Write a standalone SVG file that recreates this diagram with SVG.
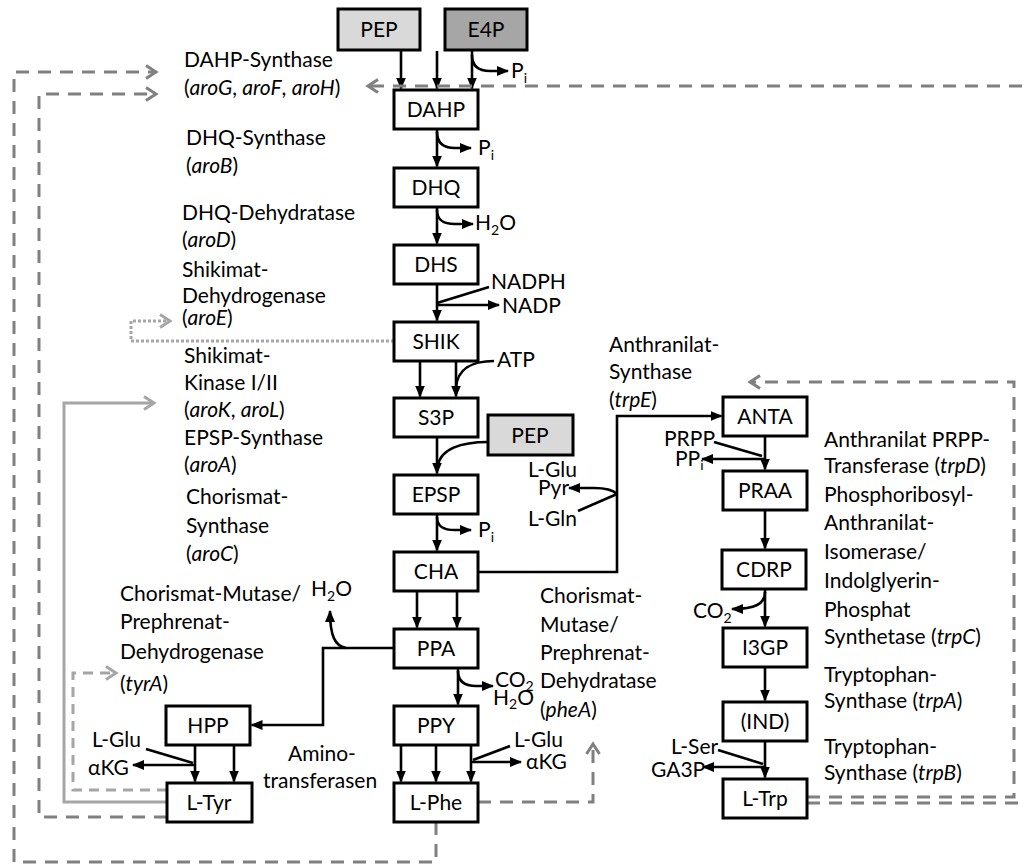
<svg xmlns="http://www.w3.org/2000/svg" width="1027" height="864" viewBox="0 0 1027 864">
<defs>
<style>
.box{fill:#fff;stroke:#000;stroke-width:3}
.g1{fill:#d9d9d9}
.g2{fill:#a6a6a6}
text{font-family:Lato,"Liberation Sans",sans-serif;font-size:21px;fill:#000}
.c{text-anchor:middle}
.e{text-anchor:end}
.i{font-style:italic}
.s{font-size:14px}
.ln{fill:none;stroke:#000;stroke-width:2.6}
.ar{marker-end:url(#ah)}
.fb{fill:none;stroke:#808080;stroke-width:3;stroke-dasharray:13 9;marker-end:url(#ch)}
.fl{fill:none;stroke:#a6a6a6;stroke-width:3;stroke-dasharray:10 7;marker-end:url(#chl)}
.sl{fill:none;stroke:#a6a6a6;stroke-width:3;marker-end:url(#chl)}
.dt{fill:none;stroke:#a6a6a6;stroke-width:3;stroke-dasharray:3 2;marker-end:url(#chl)}
</style>
<marker id="ah" viewBox="0 0 12 10" refX="11" refY="5" markerWidth="12" markerHeight="10" markerUnits="userSpaceOnUse" orient="auto"><path d="M0,0 L12,5 L0,10 z" fill="#000"/></marker>
<marker id="ch" viewBox="-2 -2 15 17" refX="10" refY="6.5" markerWidth="15" markerHeight="17" markerUnits="userSpaceOnUse" orient="auto"><path d="M0,0 L10,6.5 L0,13" fill="none" stroke="#808080" stroke-width="3"/></marker>
<marker id="chl" viewBox="-2 -2 15 17" refX="10" refY="6.5" markerWidth="15" markerHeight="17" markerUnits="userSpaceOnUse" orient="auto"><path d="M0,0 L10,6.5 L0,13" fill="none" stroke="#a6a6a6" stroke-width="3"/></marker>
</defs>
<rect width="1027" height="864" fill="#fff"/>

<g id="connectors">
<path class="ln ar" d="M401,51 V88.5"/>
<path class="ln ar" d="M437,51 V88.5"/>
<path class="ln ar" d="M472,51 V88.5"/>
<path class="ln ar" d="M472,55 C472,67 479,71 490,71 H508"/>
<path class="ln ar" d="M437,129 V166.5"/>
<path class="ln ar" d="M437,132 C437,144 444,148 455,148 H471"/>
<path class="ln ar" d="M437,207 V243.5"/>
<path class="ln ar" d="M437,210 C437,221 444,224 455,224 H473"/>
<path class="ln ar" d="M437,284 V320.5"/>
<path class="ln" d="M489,287 L437,303"/>
<path class="ln ar" d="M437,305 H499"/>
<path class="ln ar" d="M420,361 V396.5"/>
<path class="ln ar" d="M456,361 V396.5"/>
<path class="ln" d="M494,361 C472,361 457,369 456,388"/>
<path class="ln ar" d="M437,437 V473.5"/>
<path class="ln" d="M488,442 C461,442 440,449 438,466"/>
<path class="ln ar" d="M437,514 V550.5"/>
<path class="ln ar" d="M437,517 C437,527 444,530 455,530 H471"/>
<path class="ln ar" d="M417,591 V627.5"/>
<path class="ln ar" d="M457,591 V627.5"/>
<path class="ln ar" d="M478,572 H617 V416 H721.5"/>
<path class="ln ar" d="M617,494 C612,489 604,488 594,488 H569"/>
<path class="ln" d="M578,511 L617,494"/>
<path class="ln ar" d="M394,648 H323 V725 H251.5"/>
<path class="ln ar" d="M346,648 C335,646 330,636 330,611"/>
<path class="ln ar" d="M458,668 V704.5"/>
<path class="ln ar" d="M458,671 C458,682 465,686 476,686 H493"/>
<path class="ln ar" d="M195,745 V781.5"/>
<path class="ln ar" d="M234,745 V781.5"/>
<path class="ln" d="M146,749 L193,763"/>
<path class="ln ar" d="M194,765 H133"/>
<path class="ln ar" d="M401,745 V781.5"/>
<path class="ln ar" d="M436,745 V781.5"/>
<path class="ln ar" d="M471,745 V781.5"/>
<path class="ln" d="M510,746 L473,760"/>
<path class="ln ar" d="M472,762 H521"/>
<path class="ln ar" d="M765,436 V469.5"/>
<path class="ln" d="M714,442 L762,456"/>
<path class="ln ar" d="M764,459 H702"/>
<path class="ln ar" d="M765,510 V548.5"/>
<path class="ln ar" d="M765,589 V626.5"/>
<path class="ln ar" d="M765,592 C765,604 755,609 732,609"/>
<path class="ln ar" d="M765,667 V700.5"/>
<path class="ln ar" d="M765,741 V777.5"/>
<path class="ln" d="M718,750 L763,764"/>
<path class="ln ar" d="M764,767 H703"/>
<path class="fb" d="M807,797 H1014 V382 H750"/>
<path class="fb" d="M807,803 H1040 V86 H368"/>
<path class="fb" d="M478,802 H593 V744"/>
<path class="fb" d="M436,822 V862 H14 V72 H156"/>
<path class="fb" d="M167,817 H39 V94 H156"/>
<path class="fl" d="M167,790 H73 V673 H116"/>
<path class="sl" d="M167,802 H64 V403 H154"/>
<path class="dt" d="M394,341 H131 V321 H170"/>
</g>

<g id="n-pep"><rect class="box g1" x="338" y="9" width="82" height="41"/><text class="c" x="379" y="37">PEP</text></g>
<g id="n-e4p"><rect class="box g2" x="445" y="9" width="82" height="41"/><text class="c" x="486" y="37">E4P</text></g>
<g id="n-dahp"><rect class="box" x="394" y="90" width="84" height="39"/><text class="c" x="436" y="117">DAHP</text></g>
<g id="n-dhq"><rect class="box" x="394" y="168" width="84" height="39"/><text class="c" x="436" y="195">DHQ</text></g>
<g id="n-dhs"><rect class="box" x="394" y="245" width="84" height="39"/><text class="c" x="436" y="272">DHS</text></g>
<g id="n-shik"><rect class="box" x="394" y="322" width="84" height="39"/><text class="c" x="436" y="349">SHIK</text></g>
<g id="n-s3p"><rect class="box" x="394" y="398" width="84" height="39"/><text class="c" x="436" y="425">S3P</text></g>
<g id="n-pep2"><rect class="box g1" x="488" y="415" width="85" height="40"/><text class="c" x="530" y="443">PEP</text></g>
<g id="n-epsp"><rect class="box" x="394" y="475" width="84" height="39"/><text class="c" x="436" y="502">EPSP</text></g>
<g id="n-cha"><rect class="box" x="394" y="552" width="84" height="39"/><text class="c" x="436" y="579">CHA</text></g>
<g id="n-ppa"><rect class="box" x="394" y="629" width="84" height="39"/><text class="c" x="436" y="656">PPA</text></g>
<g id="n-ppy"><rect class="box" x="394" y="706" width="84" height="39"/><text class="c" x="436" y="733">PPY</text></g>
<g id="n-lphe"><rect class="box" x="394" y="783" width="84" height="39"/><text class="c" x="436" y="810">L-Phe</text></g>
<g id="n-hpp"><rect class="box" x="166" y="706" width="84" height="39"/><text class="c" x="208" y="733">HPP</text></g>
<g id="n-ltyr"><rect class="box" x="167" y="783" width="85" height="39"/><text class="c" x="209" y="810">L-Tyr</text></g>
<g id="n-anta"><rect class="box" x="723" y="397" width="84" height="39"/><text class="c" x="765" y="424">ANTA</text></g>
<g id="n-praa"><rect class="box" x="723" y="471" width="84" height="39"/><text class="c" x="765" y="498">PRAA</text></g>
<g id="n-cdrp"><rect class="box" x="722" y="550" width="84" height="39"/><text class="c" x="764" y="577">CDRP</text></g>
<g id="n-i3gp"><rect class="box" x="723" y="628" width="84" height="39"/><text class="c" x="765" y="655">I3GP</text></g>
<g id="n-ind"><rect class="box" x="723" y="702" width="84" height="39"/><text class="c" x="765" y="729">(IND)</text></g>
<g id="n-ltrp"><rect class="box" x="723" y="779" width="84" height="39"/><text class="c" x="765" y="806">L-Trp</text></g>

<g id="labels">
<text x="511" y="78">P<tspan class="s" dy="5">i</tspan></text>
<text x="478" y="155">P<tspan class="s" dy="5">i</tspan></text>
<text x="475" y="230">H<tspan class="s" dy="5">2</tspan><tspan dy="-5">O</tspan></text>
<text x="491" y="289">NADPH</text>
<text x="502" y="313">NADP</text>
<text x="497" y="367">ATP</text>
<text x="478" y="537">P<tspan class="s" dy="5">i</tspan></text>
<text x="528" y="477">L-Glu</text>
<text x="538" y="495">Pyr</text>
<text x="528" y="526">L-Gln</text>
<text x="311" y="596">H<tspan class="s" dy="5">2</tspan><tspan dy="-5">O</tspan></text>
<text x="495" y="687">CO<tspan class="s" dy="4">2</tspan></text>
<text x="493" y="705">H<tspan class="s" dy="4">2</tspan><tspan dy="-4">O</tspan></text>
<text x="92" y="747">L-Glu</text>
<text x="88" y="775">αKG</text>
<text x="288" y="761">Amino-</text>
<text x="263" y="788">transferasen</text>
<text x="514" y="747">L-Glu</text>
<text x="526" y="769">αKG</text>
<text class="e" x="715" y="446">PRPP</text>
<text x="675" y="466">PP<tspan class="s" dy="4">i</tspan></text>
<text x="693" y="618">CO<tspan class="s" dy="5">2</tspan></text>
<text x="671" y="754">L-Ser</text>
<text x="651" y="777">GA3P</text>

<text x="184" y="67">DAHP-Synthase</text>
<text x="184" y="95">(<tspan class="i">aroG</tspan>, <tspan class="i">aroF</tspan>, <tspan class="i">aroH</tspan>)</text>
<text x="186" y="145">DHQ-Synthase</text>
<text x="186" y="173">(<tspan class="i">aroB</tspan>)</text>
<text x="182" y="220">DHQ-Dehydratase</text>
<text x="182" y="247">(<tspan class="i">aroD</tspan>)</text>
<text x="182" y="277">Shikimat-</text>
<text x="182" y="303">Dehydrogenase</text>
<text x="182" y="325">(<tspan class="i">aroE</tspan>)</text>
<text x="184" y="363">Shikimat-</text>
<text x="184" y="390">Kinase I/II</text>
<text x="184" y="417">(<tspan class="i">aroK</tspan>, <tspan class="i">aroL</tspan>)</text>
<text x="184" y="445">EPSP-Synthase</text>
<text x="184" y="472">(<tspan class="i">aroA</tspan>)</text>
<text x="186" y="504">Chorismat-</text>
<text x="186" y="533">Synthase</text>
<text x="186" y="561">(<tspan class="i">aroC</tspan>)</text>
<text x="120" y="601">Chorismat-Mutase/</text>
<text x="120" y="629">Prephrenat-</text>
<text x="120" y="659">Dehydrogenase</text>
<text x="120" y="691">(<tspan class="i">tyrA</tspan>)</text>

<text x="609" y="352">Anthranilat-</text>
<text x="609" y="379">Synthase</text>
<text x="609" y="407">(<tspan class="i">trpE</tspan>)</text>
<text x="824" y="447">Anthranilat PRPP-</text>
<text x="824" y="473">Transferase (<tspan class="i">trpD</tspan>)</text>
<text x="824" y="502">Phosphoribosyl-</text>
<text x="824" y="530">Anthranilat-</text>
<text x="824" y="559">Isomerase/</text>
<text x="824" y="588">Indolglyerin-</text>
<text x="824" y="617">Phosphat</text>
<text x="824" y="644">Synthetase (<tspan class="i">trpC</tspan>)</text>
<text x="824" y="682">Tryptophan-</text>
<text x="824" y="708">Synthase (<tspan class="i">trpA</tspan>)</text>
<text x="824" y="754">Tryptophan-</text>
<text x="824" y="780">Synthase (<tspan class="i">trpB</tspan>)</text>

<text x="540" y="603">Chorismat-</text>
<text x="540" y="632">Mutase/</text>
<text x="540" y="660">Prephrenat-</text>
<text x="540" y="688">Dehydratase</text>
<text x="540" y="717">(<tspan class="i">pheA</tspan>)</text>
</g>
</svg>
